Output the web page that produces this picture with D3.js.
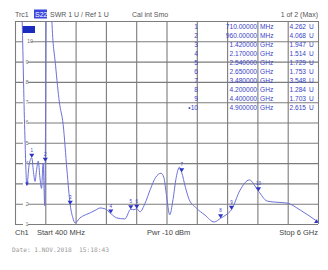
<!DOCTYPE html>
<html>
<head>
<meta charset="utf-8">
<script src="https://cdn.jsdelivr.net/npm/d3@7"></script>
<style>
body { margin: 0; background: #fff; }
svg { display: block; font-family: "Liberation Sans", Arial, sans-serif; }
</style>
</head>
<body>
<div id="chart"></div>
<script>
// trace S22 SWR, frequency in GHz
const freqs = [0.40, 0.47, 0.53, 0.58, 0.62, 0.66, 0.71, 0.74, 0.77, 0.80, 0.83, 0.86, 0.89,
    0.92, 0.95, 0.96, 0.98, 1.03, 1.08, 1.15, 1.22, 1.29, 1.36, 1.42, 1.47, 1.51, 1.60, 1.70,
    1.79, 1.90, 1.97, 2.06, 2.17, 2.28, 2.43, 2.54, 2.60, 2.65, 2.71, 2.80, 2.90, 3.00, 3.10,
    3.15, 3.20, 3.26, 3.32, 3.38, 3.44, 3.48, 3.55, 3.62, 3.75, 3.91, 4.08, 4.20, 4.30, 4.40,
    4.56, 4.73, 4.90, 5.06, 5.20, 5.43, 5.67, 6.00];
const swr = [20, 16, 11.3, 5.6, 2.9, 3.9, 4.262, 3.6, 3.1, 3.7, 4.1, 3.3, 2.75,
    4.0, 1.9, 4.068, 13, 16, 11.1, 8.8, 7.0, 5.9, 3.66, 1.947, 1.3, 1.05, 1.3, 1.45,
    1.55, 1.7, 1.79, 1.75, 1.514, 1.3, 1.25, 1.729, 1.7, 1.753, 1.6, 2.0, 2.7, 3.3, 3.5,
    3.3, 2.4, 1.45, 2.2, 3.3, 3.8, 3.548, 2.8, 2.2, 1.79, 1.44, 1.1, 1.284, 1.45, 1.703,
    2.67, 3.17, 2.615, 2.13, 2.08, 2.03, 1.69, 1.1];

// marker table
const markerIds = ["1", "2", "3", "4", "5", "6", "7", "8", "9", "10"];
const markerFreqText = ["710.00000", "960.00000", "1.420000", "2.170000", "2.540000",
    "2.650000", "3.480000", "4.200000", "4.400000", "4.900000"];
const markerUnits = ["MHz", "MHz", "GHz", "GHz", "GHz", "GHz", "GHz", "GHz", "GHz", "GHz"];
const markerFreqs = [0.71, 0.96, 1.42, 2.17, 2.54, 2.65, 3.48, 4.2, 4.4, 4.9];
const markerVals = [4.262, 4.068, 1.947, 1.514, 1.729, 1.753, 3.548, 1.284, 1.703, 2.615];

const yTicks = [1, 2, 3, 4, 5, 6, 7, 8, 9, 10];
const xTicks = d3.range(0, 11).map(function(i) { return 0.4 + i * 0.56; });

const W = 328, H = 270;
const margin = { left: 15, right: 10, top: 21, bottom: 46 };

const x = d3.scaleLinear().domain([0.4, 6]).range([margin.left, W - margin.right]);
const y = d3.scaleLinear().domain([1, 11]).range([H - margin.bottom, margin.top]);

const svg = d3.select("#chart").append("svg")
    .attr("width", W)
    .attr("height", H);

const blue = "#2b34c4";
const textBlue = "#3a44c8";
const gridCol = "#7c7c7c";

svg.append("defs").append("clipPath")
    .attr("id", "plotClip")
    .append("rect")
    .attr("x", x(0.4)).attr("y", y(11))
    .attr("width", x(6) - x(0.4)).attr("height", y(1) - y(11));

// grid from axes
const gx = svg.append("g")
    .attr("transform", "translate(0," + y(1) + ")")
    .call(d3.axisBottom(x).tickValues(xTicks).tickSize(-(y(1) - y(11))).tickFormat(""));
const gy = svg.append("g")
    .attr("transform", "translate(" + x(0.4) + ",0)")
    .call(d3.axisLeft(y).tickValues(d3.range(1, 12)).tickSize(-(x(6) - x(0.4))).tickFormat(""));
[gx, gy].forEach(function(g) {
    g.select(".domain").remove();
    g.selectAll("line").attr("stroke", gridCol).attr("stroke-width", 1.1);
});

// y labels
const yl = svg.append("g").selectAll("g").data(yTicks).enter().append("g")
    .attr("transform", function(d) { return "translate(" + (x(0.4) + 12) + "," + y(d) + ")"; });
yl.append("rect")
    .attr("x", -4).attr("y", -3.5)
    .attr("width", function(d) { return d >= 10 ? 8 : 5; })
    .attr("height", 7)
    .attr("fill", "#fff");
yl.append("text")
    .attr("x", function(d) { return d >= 10 ? 0 : -1.5; })
    .attr("dy", "0.35em")
    .attr("font-size", 5.5)
    .attr("fill", "#777")
    .text(function(d) { return d; });

// small trace tag in plot
svg.append("rect")
    .attr("x", 22).attr("y", 26)
    .attr("width", 13).attr("height", 7)
    .attr("fill", "#1a2bc0");

// trace
const line = d3.line()
    .x(function(d) { return x(d[0]); })
    .y(function(d) { return y(d[1]); })
    .curve(d3.curveMonotoneX);

svg.append("path")
    .datum(d3.zip(freqs, swr))
    .attr("clip-path", "url(#plotClip)")
    .attr("d", line)
    .attr("fill", "none")
    .attr("stroke", "#6c70d6")
    .attr("stroke-width", 1);

// markers
const mk = svg.append("g").selectAll("g").data(markerIds).enter().append("g")
    .attr("transform", function(d, i) {
        return "translate(" + x(markerFreqs[i]) + "," + y(markerVals[i]) + ")";
    });
mk.append("path")
    .attr("d", "M0,0 L-2.6,-4 L2.6,-4 Z")
    .attr("fill", blue);
mk.append("text")
    .attr("y", -6)
    .attr("text-anchor", "middle")
    .attr("font-size", 4.5)
    .attr("fill", textBlue)
    .text(function(d) { return d; });

// extra mark at stop
svg.append("path")
    .attr("d", "M" + (x(6) - 1) + "," + (y(1.1) - 3) + " l-3,4 l4,0 Z")
    .attr("fill", blue);
svg.append("path")
    .attr("d", "M" + x(0.62) + "," + y(2.9) + " l-1.8,-3 l3.6,0 Z")
    .attr("fill", blue);

// marker table
const tbl = svg.append("g").attr("font-size", 6.6).attr("fill", textBlue);
const rowY = function(i) { return 28.5 + i * 9.1; };
tbl.selectAll(".num").data(markerIds).enter().append("text")
    .attr("x", 198).attr("y", function(d, i) { return rowY(i); })
    .attr("text-anchor", "end")
    .text(function(d, i) { return i === 9 ? "\u2022" + d : d; });
tbl.selectAll(".fq").data(markerFreqText).enter().append("text")
    .attr("x", 257).attr("y", function(d, i) { return rowY(i); })
    .attr("text-anchor", "end")
    .text(function(d) { return d; });
tbl.selectAll(".un").data(markerUnits).enter().append("text")
    .attr("x", 260).attr("y", function(d, i) { return rowY(i); })
    .text(function(d) { return d; });
tbl.selectAll(".vl").data(markerVals).enter().append("text")
    .attr("x", 306).attr("y", function(d, i) { return rowY(i); })
    .attr("text-anchor", "end")
    .text(function(d) { return d.toFixed(3); });
tbl.selectAll(".uu").data(markerVals).enter().append("text")
    .attr("x", 309).attr("y", function(d, i) { return rowY(i); })
    .text("U");

// header
const hdr = svg.append("g").attr("font-size", 7).attr("fill", "#555");
hdr.append("text").attr("x", 15).attr("y", 16.5).text("Trc1");
hdr.append("rect").attr("x", 34).attr("y", 9.5).attr("width", 13).attr("height", 9).attr("fill", "#3b47dc");
hdr.append("text").attr("x", 35).attr("y", 16.5).attr("fill", "#fff").text("S22");
hdr.append("text").attr("x", 50).attr("y", 16.5).text("SWR  1 U /  Ref 1 U");
hdr.append("text").attr("x", 132).attr("y", 16.5).text("Cal int Smo");
hdr.append("text").attr("x", 318).attr("y", 16.5).attr("text-anchor", "end").text("1 of 2 (Max)");

// footer
const ftr = svg.append("g").attr("font-size", 7.5).attr("fill", "#444");
ftr.append("text").attr("x", 15).attr("y", 234.5).text("Ch1");
ftr.append("text").attr("x", 37).attr("y", 234.5).text("Start  400 MHz");
ftr.append("text").attr("x", 147).attr("y", 234.5).text("Pwr  -10 dBm");
ftr.append("text").attr("x", 318).attr("y", 234.5).attr("text-anchor", "end").text("Stop  6 GHz");

svg.append("text")
    .attr("x", 12).attr("y", 252)
    .attr("font-family", "DejaVu Sans Mono, monospace")
    .attr("font-size", 6.2)
    .attr("fill", "#999")
    .attr("xml:space", "preserve")
    .text("Date: 1.NOV.2018  15:18:43");
</script>
</body>
</html>
